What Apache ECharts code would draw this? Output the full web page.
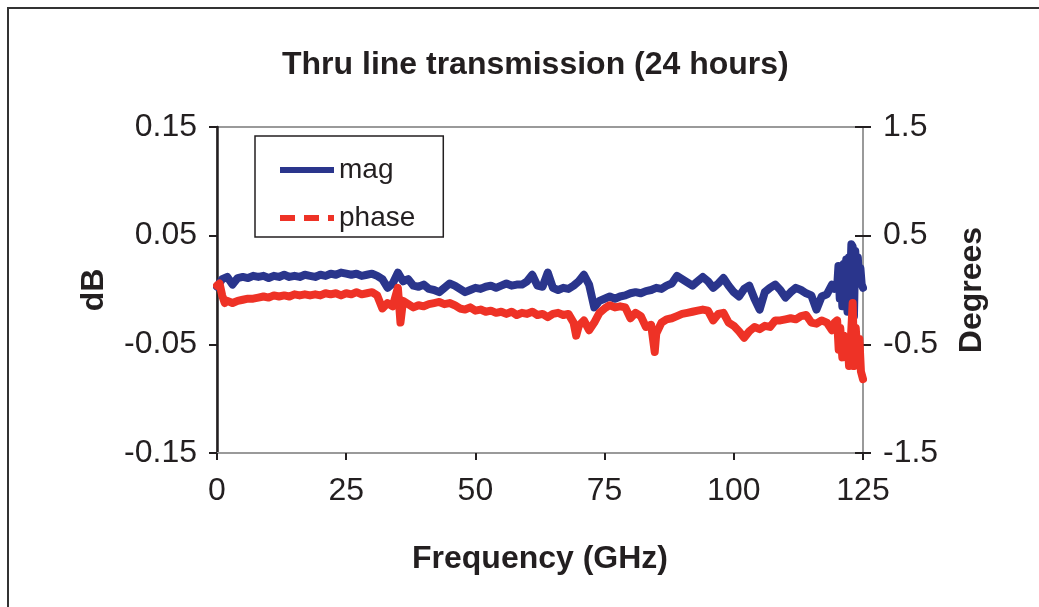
<!DOCTYPE html>
<html><head><meta charset="utf-8">
<script src="https://cdn.jsdelivr.net/npm/echarts@6/dist/echarts.min.js"></script>
<style>html,body{margin:0;padding:0;background:#fff}#c{width:1039px;height:607px}</style>
</head><body><div id="c"></div>
<script>
const chartTitle = 'Thru line transmission (24 hours)';
const xAxisName = 'Frequency (GHz)';
const leftAxisName = 'dB';
const rightAxisName = 'Degrees';
const seriesNames = ['mag', 'phase'];

const magFreq = [0,1,2,3,4,5,6,7,8,9,10,11,12,13,14,15,16,17,18,19,20,21,22,23,24,25,26,27,28,29,30,31,32,33,34,35,36,37,38,39,40,41,42,43,44,45,46,47,48,49,50,51,52,53,54,55,56,57,58,59,60,61,62,63,64,65,66,67,68,69,70,71,72,73,74,75,76,77,78,79,80,81,82,83,84,85,86,87,88,89,90,91,92,93,94,95,96,97,98,99,100,101,102,103,104,105,106,107,108,109,110,111,112,113,114,115,116,117,118,119,119.5,120,120.25,120.5,120.75,121,121.25,121.5,121.75,122,122.25,122.5,122.75,123,123.25,123.5,123.75,124,124.25,124.5,124.75,125];
const magDb = [0.003,0.010,0.012,0.005,0.011,0.012,0.011,0.013,0.012,0.013,0.011,0.013,0.012,0.014,0.012,0.013,0.012,0.014,0.013,0.012,0.014,0.013,0.015,0.014,0.016,0.015,0.014,0.015,0.013,0.014,0.015,0.013,0.010,0.002,0.006,0.016,0.008,0.010,0.004,0.003,0.005,0.001,0.000,-0.002,0.002,0.006,0.004,0.001,-0.002,0.000,0.002,0.001,0.003,0.004,0.002,0.004,0.006,0.004,0.005,0.005,0.008,0.014,0.004,0.003,0.016,0.002,0.000,0.002,0.001,0.004,0.008,0.014,0.005,-0.016,-0.010,-0.008,-0.006,-0.008,-0.006,-0.005,-0.003,-0.002,-0.003,-0.001,0.000,0.002,0.001,0.004,0.006,0.013,0.010,0.007,0.004,0.008,0.012,0.008,0.002,0.006,0.011,0.004,-0.002,-0.006,0.001,0.004,-0.008,-0.018,-0.002,0.002,0.005,0.000,-0.007,-0.002,0.002,0.000,-0.003,-0.005,-0.018,-0.006,-0.004,0.005,0.001,0.003,0.022,-0.008,0.015,-0.015,0.024,-0.005,0.028,-0.020,0.030,0.004,0.042,0.040,-0.024,0.036,0.008,0.030,0.006,0.020,0.005,0.002];

const phaseFreq = [0,0.5,1,1.5,2,3,4,5,6,7,8,9,10,11,12,13,14,15,16,17,18,19,20,21,22,23,24,25,26,27,28,29,30,31,32,33,34,35,35.5,36,37,38,39,40,41,42,43,44,45,46,47,48,49,50,51,52,53,54,55,56,57,58,59,60,61,62,63,64,65,66,67,68,69,69.5,70,71,72,73,74,75,76,77,78,79,80,81,82,83,84,84.7,85,86,87,88,89,90,91,92,93,94,95,96,97,98,99,100,101,102,103,104,105,106,107,108,109,110,111,112,113,114,115,116,117,118,119,119.5,120,120.3,120.6,121,121.3,121.6,122,122.3,122.6,123,123.3,123.6,124,124.3,124.6,125];
const phaseDeg = [0.04,0.06,-0.05,-0.12,-0.10,-0.12,-0.10,-0.09,-0.08,-0.08,-0.07,-0.06,-0.07,-0.05,-0.06,-0.05,-0.06,-0.04,-0.05,-0.04,-0.05,-0.04,-0.05,-0.03,-0.04,-0.03,-0.05,-0.03,-0.04,-0.02,-0.04,-0.03,-0.02,-0.05,-0.17,-0.12,-0.15,0.02,-0.30,-0.10,-0.13,-0.16,-0.14,-0.15,-0.13,-0.12,-0.11,-0.13,-0.12,-0.14,-0.17,-0.18,-0.16,-0.19,-0.18,-0.20,-0.19,-0.21,-0.20,-0.22,-0.20,-0.23,-0.21,-0.22,-0.20,-0.23,-0.22,-0.25,-0.22,-0.21,-0.23,-0.22,-0.30,-0.42,-0.33,-0.28,-0.37,-0.30,-0.21,-0.17,-0.14,-0.16,-0.15,-0.16,-0.26,-0.21,-0.24,-0.34,-0.32,-0.57,-0.40,-0.30,-0.27,-0.26,-0.24,-0.22,-0.21,-0.20,-0.19,-0.18,-0.19,-0.28,-0.22,-0.21,-0.30,-0.33,-0.38,-0.44,-0.38,-0.34,-0.36,-0.33,-0.34,-0.28,-0.28,-0.27,-0.26,-0.27,-0.24,-0.23,-0.30,-0.31,-0.28,-0.30,-0.37,-0.30,-0.28,-0.55,-0.35,-0.62,-0.42,-0.58,-0.45,-0.70,-0.50,-0.12,-0.70,-0.35,-0.65,-0.45,-0.75,-0.82];

const FONT = 'Liberation Sans, Arial, Helvetica, sans-serif';
const TXT = '#231F20';
const GRAY = '#9A9A9A';
const BLUE = '#2A358C';
const RED = '#EE3226';

const chart = echarts.init(document.getElementById('c'), null, {renderer: 'canvas'});

const baseY = {
  type: 'value',
  splitLine: {show: false},
  axisLine: {show: true, onZero: false},
  axisTick: {show: true},
};

chart.setOption({
  animation: false,
  backgroundColor: '#fff',
  textStyle: {fontFamily: FONT},
  title: {
    text: chartTitle, left: 277, top: 44,
    textStyle: {fontSize: 32, fontWeight: 'bold', color: TXT, fontFamily: FONT}
  },
  graphic: [{
    type: 'polyline',
    shape: {points: [[8, 607], [8, 8], [1039, 8]]},
    style: {stroke: '#333', lineWidth: 2, fill: null}
  }],
  legend: {
    orient: 'vertical', left: 255, top: 136,
    padding: [20, 28, 5, 25],
    borderColor: TXT, borderWidth: 1.5,
    itemWidth: 54, itemHeight: 6, itemGap: 20,
    textStyle: {fontSize: 28, color: TXT, fontFamily: FONT},
    data: [
      {name: seriesNames[0], icon: 'path://M0,0h54v6h-54z'},
      {name: seriesNames[1], icon: 'path://M0,0h15v6h-15zM24,0h15v6h-15zM48,0h6v6h-6z'}
    ]
  },
  grid: {
    left: 217, top: 127, width: 646, height: 326,
    show: true, borderColor: GRAY, borderWidth: 2, containLabel: false
  },
  xAxis: {
    type: 'value', min: 0, max: 125, interval: 25,
    splitLine: {show: false},
    axisLine: {show: true, onZero: false, lineStyle: {color: GRAY, width: 2}},
    axisTick: {show: true, length: 7, lineStyle: {color: TXT, width: 2}},
    axisLabel: {fontSize: 32, color: TXT, margin: 22, fontFamily: FONT},
    name: xAxisName, nameLocation: 'middle', nameGap: 90,
    nameTextStyle: {fontSize: 32, fontWeight: 'bold', color: TXT, fontFamily: FONT}
  },
  yAxis: [
    Object.assign({}, baseY, {
      position: 'left', min: -0.15, max: 0.15, interval: 0.1,
      axisLine: {show: true, onZero: false, lineStyle: {color: TXT, width: 2.5}},
      axisTick: {show: true, length: 8, lineStyle: {color: TXT, width: 2}},
      axisLabel: {fontSize: 32, color: TXT, margin: 20, fontFamily: FONT,
        formatter: v => (Math.round(v * 100) / 100).toFixed(2)},
      name: leftAxisName, nameLocation: 'middle', nameGap: 107,
      nameTextStyle: {fontSize: 32, fontWeight: 'bold', color: TXT, fontFamily: FONT}
    }),
    Object.assign({}, baseY, {
      position: 'right', min: -1.5, max: 1.5, interval: 1,
      axisLine: {show: true, onZero: false, lineStyle: {color: GRAY, width: 2}},
      axisTick: {show: true, length: 8, lineStyle: {color: TXT, width: 2}},
      axisLabel: {fontSize: 32, color: TXT, margin: 20, fontFamily: FONT,
        formatter: v => (Math.round(v * 10) / 10).toFixed(1)},
      name: rightAxisName, nameLocation: 'middle', nameGap: 93,
      nameTextStyle: {fontSize: 32, fontWeight: 'bold', color: TXT, fontFamily: FONT}
    }),
    Object.assign({}, baseY, {
      position: 'right', min: -1.5, max: 1.5, interval: 1,
      axisLine: {show: false, onZero: false},
      axisTick: {show: true, inside: true, length: 8, lineStyle: {color: TXT, width: 2}},
      axisLabel: {show: false}
    })
  ],
  series: [
    {
      name: seriesNames[0], type: 'line', yAxisIndex: 0, symbol: 'none',
      data: magFreq.map((f, i) => [f, magDb[i]]),
      color: BLUE,
      itemStyle: {color: BLUE},
      lineStyle: {width: 8, color: BLUE, join: 'round', cap: 'round'}
    },
    {
      name: seriesNames[1], type: 'line', yAxisIndex: 1, symbol: 'none',
      data: phaseFreq.map((f, i) => [f, phaseDeg[i]]),
      color: RED,
      itemStyle: {color: RED},
      lineStyle: {width: 8, color: RED, join: 'round', cap: 'round'}
    }
  ]
});
</script>
</body></html>
